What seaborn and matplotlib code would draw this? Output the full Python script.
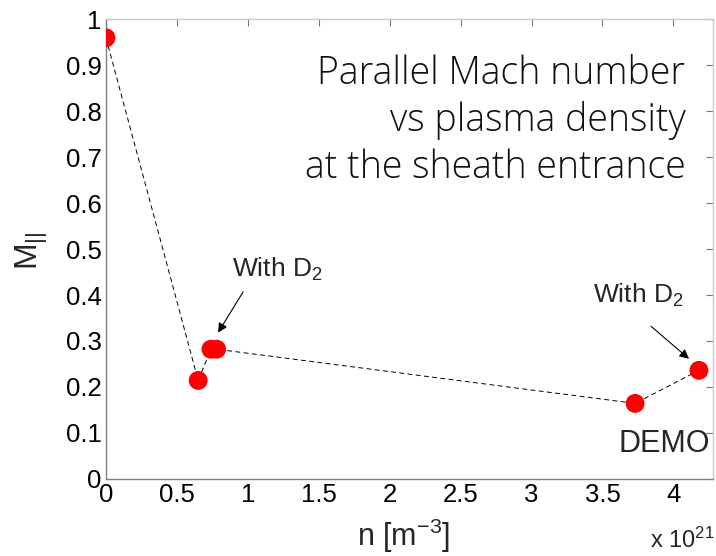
import matplotlib
matplotlib.use("Agg")
import matplotlib.pyplot as plt
import seaborn as sns
import pandas as pd

# Plasma density (units of 1e21 m^-3) and parallel Mach number at the sheath entrance
density = [0.0, 0.65, 0.74, 0.78, 3.73, 4.18]
mach = [0.96, 0.214, 0.282, 0.282, 0.164, 0.236]

x_ticks = [0, 0.5, 1, 1.5, 2, 2.5, 3, 3.5, 4]
x_tick_labels = ["0", "0.5", "1", "1.5", "2", "2.5", "3", "3.5", "4"]
y_ticks = [0, 0.1, 0.2, 0.3, 0.4, 0.5, 0.6, 0.7, 0.8, 0.9, 1.0]
y_tick_labels = ["0", "0.1", "0.2", "0.3", "0.4", "0.5", "0.6", "0.7", "0.8", "0.9", "1"]

df = pd.DataFrame({"n": density, "M": mach})

sns.set_theme(style="white")
plt.rcParams["font.family"] = ["Liberation Sans", "DejaVu Sans"]
plt.rcParams["mathtext.fontset"] = "custom"
plt.rcParams["mathtext.rm"] = "Liberation Sans"
plt.rcParams["mathtext.it"] = "Liberation Sans"
plt.rcParams["mathtext.default"] = "regular"

fig = plt.figure(figsize=(7.16, 5.56), dpi=100)
ax = fig.add_axes([0.148, 0.139, 0.848, 0.826])

sns.lineplot(data=df, x="n", y="M", sort=False, estimator=None, ax=ax,
             color="black", linewidth=0.7, linestyle=(0, (5, 3.5)), zorder=2)
sns.scatterplot(data=df, x="n", y="M", ax=ax, color="#ff0000", s=185,
                edgecolor="none", zorder=3)

ax.set_xlim(0, 4.28)
ax.set_ylim(0, 1)
ax.set_xticks(x_ticks)
ax.set_xticklabels(x_tick_labels)
ax.set_yticks(y_ticks)
ax.set_yticklabels(y_tick_labels)
ax.tick_params(axis="both", which="both", direction="in", length=5, width=0.8,
               color="#777777", labelsize=18.5, labelcolor="black",
               top=True, right=True, pad=3)
for side, sp in ax.spines.items():
    sp.set_visible(True)
    sp.set_linewidth(1.0)
    sp.set_color("#808080" if side in ("left", "bottom") else "#c8c8c8")

ax.set_xlabel("")
ax.set_ylabel("")
fig.text(0.563, 0.037, r"n [m$^{-3}$]", fontsize=22, ha="center", va="center")
fig.text(0.044, 0.55, r"M$_{||}$", fontsize=23, rotation=90, ha="center", va="center")
fig.text(0.908, 0.028, r"x 10$^{21}$", fontsize=17, ha="left", va="center")

ax.text(4.085, 0.78, "Parallel Mach number\nvs plasma density\nat the sheath entrance",
        ha="right", va="center", fontsize=27, fontfamily="Open Sans",
        fontweight="light", linespacing=1.27, color="#111111")

ax.text(3.61, 0.059, "DEMO", fontsize=22, ha="left", va="baseline", clip_on=False)

ax.text(0.888, 0.439, r"With D$_2$", fontsize=19, ha="left", va="baseline")
ax.annotate("", xy=(0.79, 0.318), xytext=(0.967, 0.407),
            arrowprops=dict(arrowstyle="-|>", color="black", lw=0.8,
                            mutation_scale=14, shrinkA=0, shrinkB=0))
ax.text(3.43, 0.382, r"With D$_2$", fontsize=19, ha="left", va="baseline")
ax.annotate("", xy=(4.11, 0.261), xytext=(3.842, 0.332),
            arrowprops=dict(arrowstyle="-|>", color="black", lw=0.8,
                            mutation_scale=14, shrinkA=0, shrinkB=0))

fig.savefig("out.png", dpi=100)
